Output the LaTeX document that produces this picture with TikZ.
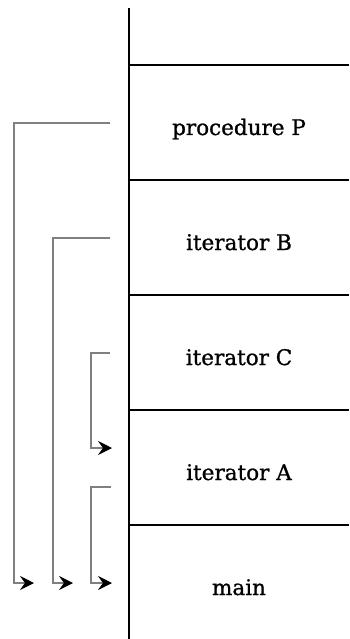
\documentclass[tikz,border=0pt]{standalone}
\usepackage{fontspec}
\setmainfont[FakeBold=1.0]{DejaVu Serif}
\usetikzlibrary{arrows.meta}
\begin{document}
\begin{tikzpicture}[x=1pt,y=-1pt,
  sep/.style={draw=black,line width=1.2pt},
  spine/.style={draw=black,line width=1.4pt},
  conn/.style={draw=gray,line width=1.2pt,
    -{Stealth[color=black,length=14pt,width=14pt,inset=5pt]}},
  lbl/.style={anchor=base,font=\fontsize{21.5}{24}\selectfont,inner sep=0pt}]
\useasboundingbox (0,0) rectangle (349,639);
\draw[spine] (129,8) -- (129,639);
\foreach \y in {65,180,295,410,525} \draw[sep] (129,\y) -- (349,\y);
\node[lbl] (P) at (239,135) {procedure P};
\node[lbl] (B) at (239,250) {iterator B};
\node[lbl] (C) at (239,365) {iterator C};
\node[lbl] (A) at (239,480) {iterator A};
\node[lbl] (M) at (239,595) {main};
\coordinate (pS) at (110,123);
\coordinate (bS) at (110,238);
\coordinate (cS) at (110,353);
\coordinate (aS) at (111,487);
\coordinate (pE) at (34,583);
\coordinate (bE) at (73,583);
\coordinate (cE) at (112,448);
\coordinate (aE) at (112,583);
\draw[conn] (pS) -- (14,123) |- (pE);
\draw[conn] (bS) -- (53,238) |- (bE);
\draw[conn] (cS) -- (91,353) |- (cE);
\draw[conn] (aS) -- (91,487) |- (aE);
\end{tikzpicture}
\end{document}
